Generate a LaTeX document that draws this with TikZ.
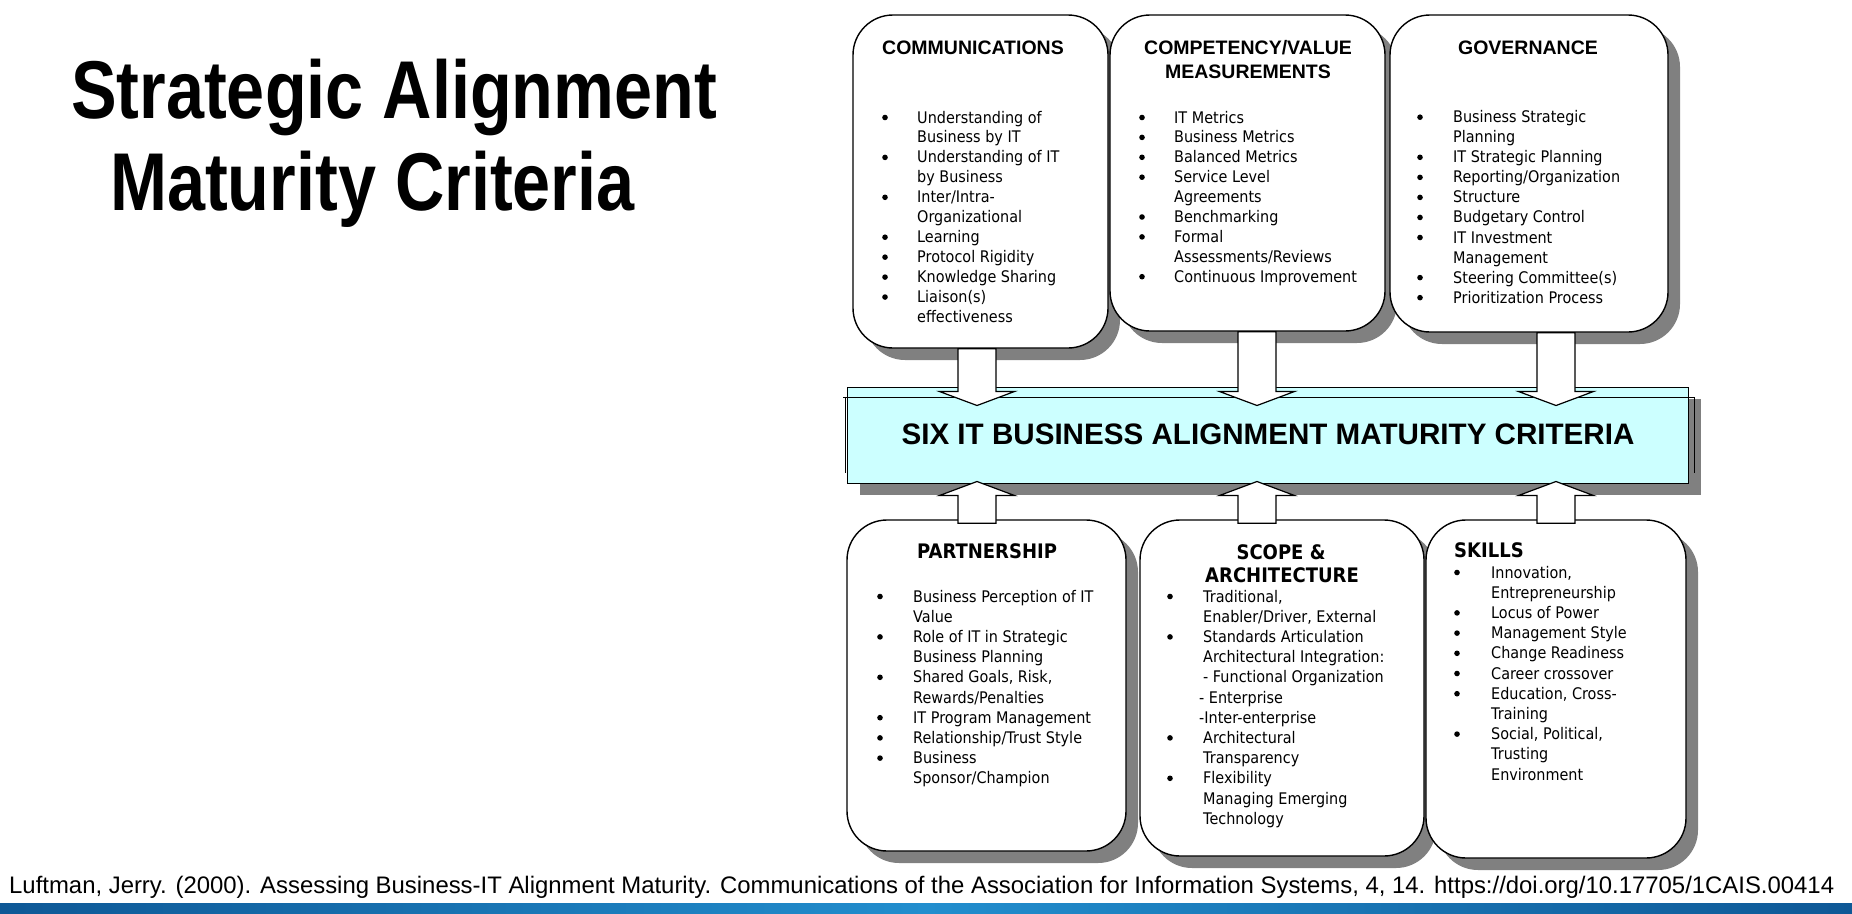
\documentclass[tikz,border=0pt]{standalone}
\usepackage{fontspec}
\usepackage{graphicx}
\setmainfont{Liberation Sans}
\newfontfamily\titlefont{Liberation Sans}[FakeStretch=0.834]
\newfontfamily\bodyfont{DejaVu Sans}[FakeStretch=0.9]
\usetikzlibrary{calc,shadows}

\definecolor{shadowgray}{RGB}{128,128,128}
\definecolor{barcyan}{RGB}{204,255,255}
\definecolor{bluedark}{RGB}{14,88,150}
\definecolor{bluelight}{RGB}{34,142,206}

% block arrow: tail coordinate #1, tip coordinate #2, head depth #3 (signed)
\newcommand\blockarrow[3]{%
  \draw[arrowbox] ($(#1)+(-19,0)$) -- ($(#1)+(19,0)$) -- ($(#1 |- #2)+(19,#3)$)
    -- ($(#1 |- #2)+(37.5,#3)$) -- (#2) -- ($(#1 |- #2)+(-37.5,#3)$)
    -- ($(#1 |- #2)+(-19,#3)$) -- cycle;}

% bulleted list: name, bullet x, text x, first baseline, line pitch, entries
\newcommand\itemlist[6]{%
  \foreach \isb/\itxt [count=\i] in {#6} {%
    \node[itemtext] (#1-\i) at (#3,{#4+#5*(\i-1)}) {\itxt};
    \ifnum\isb=1 \node[bulletmark] (#1-b\i) at (#2,{#4+#5*(\i-1)-5.5}) {};\fi
  }}

\begin{document}
\begin{tikzpicture}[x=1pt,y=-1pt,
  box/.style={draw=black, line width=1.4pt, fill=white, rounded corners=40pt,
    inner sep=0pt,
    drop shadow={shadow xshift=12pt, shadow yshift=-12pt, fill=shadowgray, opacity=1}},
  itemtext/.style={anchor=base west, inner sep=0pt, font=\bodyfont\fontsize{16}{19}\selectfont},
  bulletmark/.style={circle, fill=black, inner sep=0pt, minimum size=5.6pt},
  tophead/.style={anchor=base, inner sep=0pt, font=\bfseries\fontsize{19.5}{23}\selectfont},
  bothead/.style={inner sep=0pt, font=\bodyfont\bfseries\fontsize{20}{24}\selectfont},
  arrowbox/.style={draw=black, fill=white, line width=1.2pt, line join=miter}]

\useasboundingbox (0,0) rectangle (1852,913);
\fill[white] (0,0) rectangle (1852,913);

% title
\node[anchor=base west, inner sep=0pt, font=\titlefont\bfseries\fontsize{82}{90}\selectfont]
  (title1) at (71,118) {Strategic Alignment};
\node[anchor=base west, inner sep=0pt, font=\titlefont\bfseries\fontsize{82}{90}\selectfont]
  (title2) at (110,210) {Maturity Criteria};

% upper criteria boxes
\node[box, minimum width=255pt, minimum height=333pt] (comms) at (980.5,181.5) {};
\node[box, minimum width=275pt, minimum height=316pt] (comp) at (1247.5,173) {};
\node[box, minimum width=278pt, minimum height=317pt] (gov) at (1529,173.5) {};

% lower criteria boxes
\node[box, minimum width=279pt, minimum height=331pt] (part) at (986.5,685.5) {};
\node[box, minimum width=284pt, minimum height=336pt] (scope) at (1282,688) {};
\node[box, minimum width=260pt, minimum height=338pt] (skills) at (1556,689) {};

% central bar
\node[draw=black, line width=1pt, fill=barcyan, inner sep=0pt,
  minimum width=841pt, minimum height=96pt,
  drop shadow={shadow xshift=13pt, shadow yshift=-12pt, fill=shadowgray, opacity=1}]
  (bar) at (1267.5,435) {};
\draw[line width=1pt] (843,397) -- (1694,397);
\draw[line width=1pt] (845,397) -- (845,473);
\draw[line width=1pt] (1694,397) -- (1694,473);
\node[anchor=base, inner sep=0pt, font=\bfseries\fontsize{29.6}{34}\selectfont]
  (bartext) at (1268,444) {SIX IT BUSINESS ALIGNMENT MATURITY CRITERIA};

% arrows into the bar
\coordinate (ax1) at (977,0);
\coordinate (ax2) at (1257,0);
\coordinate (ax3) at (1556,0);
\coordinate (t1) at (ax1 |- comms.south);
\coordinate (t2) at (ax2 |- comp.south);
\coordinate (t3) at (ax3 |- gov.south);
\coordinate (h1) at ($(ax1 |- bar.north)+(0,19)$);
\coordinate (h2) at ($(ax2 |- bar.north)+(0,19)$);
\coordinate (h3) at ($(ax3 |- bar.north)+(0,19)$);
\coordinate (b1) at ($(ax1 |- part.north)+(0,4)$);
\coordinate (b2) at ($(ax2 |- scope.north)+(0,4)$);
\coordinate (b3) at ($(ax3 |- skills.north)+(0,4)$);
\coordinate (u1) at ($(ax1 |- bar.south)+(0,-2)$);
\coordinate (u2) at ($(ax2 |- bar.south)+(0,-2)$);
\coordinate (u3) at ($(ax3 |- bar.south)+(0,-2)$);
\blockarrow{t1}{h1}{-14}
\blockarrow{t2}{h2}{-14}
\blockarrow{t3}{h3}{-14}
\blockarrow{b1}{u1}{14}
\blockarrow{b2}{u2}{14}
\blockarrow{b3}{u3}{14}

% headings
\node[tophead] (commshead) at (973,54) {COMMUNICATIONS};
\node[tophead] (comphead1) at (1248,54) {COMPETENCY/VALUE};
\node[tophead] (comphead2) at (1248,78) {MEASUREMENTS};
\node[tophead] (govhead) at (1528,54) {GOVERNANCE};
\node[bothead, anchor=base] (parthead) at (987,558) {PARTNERSHIP};
\node[bothead, anchor=base] (scopehead1) at (1281,559) {SCOPE \&};
\node[bothead, anchor=base] (scopehead2) at (1282,582) {ARCHITECTURE};
\node[bothead, anchor=base west] (skillshead) at (1454,557) {SKILLS};

% lists
\itemlist{commsitem}{885}{917}{123}{19.95}{1/Understanding of, 0/Business by IT,
  1/Understanding of IT, 0/by Business, 1/{Inter/Intra-}, 0/Organizational,
  1/Learning, 1/Protocol Rigidity, 1/Knowledge Sharing, 1/Liaison(s), 0/effectiveness}
\itemlist{compitem}{1142}{1174}{123}{19.9}{1/IT Metrics, 1/Business Metrics,
  1/Balanced Metrics, 1/Service Level, 0/Agreements, 1/Benchmarking, 1/Formal,
  0/{Assessments/Reviews}, 1/Continuous Improvement}
\itemlist{govitem}{1420}{1453}{122.7}{20.05}{1/Business Strategic, 0/Planning,
  1/IT Strategic Planning, 1/{Reporting/Organization}, 1/Structure,
  1/Budgetary Control, 1/IT Investment, 0/Management, 1/Steering Committee(s),
  1/Prioritization Process}
\itemlist{partitem}{880}{913}{602}{20.2}{1/Business Perception of IT, 0/Value,
  1/Role of IT in Strategic, 0/Business Planning, 1/{Shared Goals, Risk,},
  0/{Rewards/Penalties}, 1/IT Program Management, 1/{Relationship/Trust Style},
  1/Business, 0/{Sponsor/Champion}}
\itemlist{scopeitem}{1170}{1203}{602}{20.2}{1/{Traditional,},
  0/{Enabler/Driver, External}, 1/Standards Articulation,
  0/Architectural Integration:, 0/- Functional Organization,
  0/{\hspace*{-4pt}- Enterprise}, 0/{\hspace*{-4pt}-Inter-enterprise},
  1/Architectural, 0/Transparency, 1/Flexibility, 0/Managing Emerging, 0/Technology}
\itemlist{skillsitem}{1457}{1491}{578}{20.2}{1/{Innovation,}, 0/Entrepreneurship,
  1/Locus of Power, 1/Management Style, 1/Change Readiness, 1/Career crossover,
  1/{Education, Cross-}, 0/Training, 1/{Social, Political,}, 0/Trusting,
  0/Environment}

% reference line
\node[anchor=base west, inner sep=0pt] (cite) at (9,893)
  {\resizebox{1825pt}{!}{\fontsize{22}{26}\selectfont Luftman, Jerry. (2000). Assessing Business-IT Alignment Maturity. Communications of the Association for Information Systems, 4, 14. https://doi.org/10.17705/1CAIS.00414}};

% footer band
\shade[left color=bluedark, right color=bluedark, middle color=bluelight]
  (0,903) rectangle (1852,913);
\end{tikzpicture}
\end{document}
